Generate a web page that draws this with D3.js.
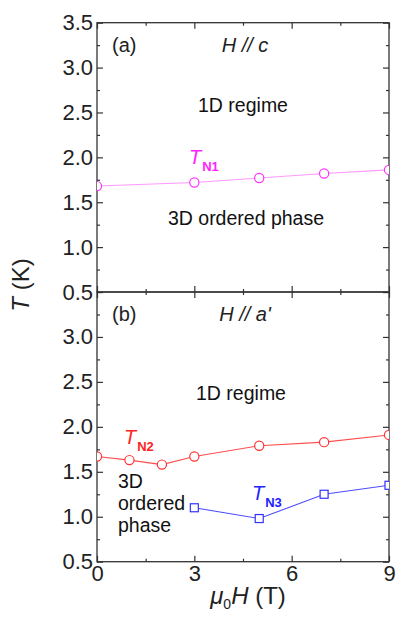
<!DOCTYPE html>
<html>
<head>
<meta charset="utf-8">
<script src="https://cdn.jsdelivr.net/npm/d3@7"></script>
<style>
  body { margin:0; background:#fff; }
  svg { font-family: "Liberation Sans", Arial, sans-serif; }
  .frame { fill:none; stroke:#333; stroke-width:1.3; }
  .tick line { stroke:#333; stroke-width:1.2; }
  .tick text { fill:#222; font-size:22px; }
</style>
</head>
<body>
<div id="chart"></div>
<script>
// field values (T) and transition temperatures (K)
var fieldN1 = [0, 3, 5, 7, 9],
    tempN1  = [1.68, 1.72, 1.77, 1.82, 1.86];
var fieldN2 = [0, 1, 2, 3, 5, 7, 9],
    tempN2  = [1.67, 1.63, 1.58, 1.67, 1.79, 1.83, 1.91];
var fieldN3 = [3, 5, 7, 9],
    tempN3  = [1.10, 0.98, 1.25, 1.35];
var xTicks = [0, 3, 6, 9],
    yTicks = [0.5, 1.0, 1.5, 2.0, 2.5, 3.0, 3.5];

var W = 397, H = 625,
    left = 97, right = 389,
    svg = d3.select('#chart').append('svg').attr('width', W).attr('height', H);

var x = d3.scaleLinear().domain([0, 9]).range([left, right]);

var panels = [
  {id:'a', top:22.7, bottom:292, label:'(a)', dir:'c'},
  {id:'b', top:292, bottom:561.7, label:'(b)', dir:"a'"}
];

panels.forEach(function(p){
  p.y = d3.scaleLinear().domain([0.5, 3.5]).range([p.bottom, p.top]);
  var g = svg.append('g');
  p.g = g;

  svg.append('defs').append('clipPath').attr('id', 'clip' + p.id)
    .append('rect').attr('x', left).attr('y', p.top)
    .attr('width', right - left).attr('height', p.bottom - p.top);

  // left axis
  var ylab = p.id === 'a' ? yTicks : yTicks.slice(0, 6);
  g.append('g').attr('transform', 'translate(' + left + ',0)')
    .call(d3.axisLeft(p.y).tickValues(yTicks).tickSize(-6).tickPadding(4)
      .tickFormat(function(d){ return ylab.indexOf(d) >= 0 ? d3.format('.1f')(d) : ''; }))
    .call(function(s){ s.select('.domain').remove(); });
  g.append('g').attr('transform', 'translate(' + left + ',0)')
    .call(d3.axisLeft(p.y).tickValues(d3.range(0.75, 3.5, 0.5)).tickSize(-3).tickFormat(''))
    .call(function(s){ s.select('.domain').remove(); });
  // right axis
  g.append('g').attr('transform', 'translate(' + right + ',0)')
    .call(d3.axisRight(p.y).tickValues(yTicks).tickSize(-6).tickFormat(''))
    .call(function(s){ s.select('.domain').remove(); });
  g.append('g').attr('transform', 'translate(' + right + ',0)')
    .call(d3.axisRight(p.y).tickValues(d3.range(0.75, 3.5, 0.5)).tickSize(-3).tickFormat(''))
    .call(function(s){ s.select('.domain').remove(); });
  // top axis
  g.append('g').attr('transform', 'translate(0,' + p.top + ')')
    .call(d3.axisTop(x).tickValues(xTicks).tickSize(-6).tickFormat(''))
    .call(function(s){ s.select('.domain').remove(); });
  g.append('g').attr('transform', 'translate(0,' + p.top + ')')
    .call(d3.axisTop(x).tickValues([1.5, 4.5, 7.5]).tickSize(-3).tickFormat(''))
    .call(function(s){ s.select('.domain').remove(); });
  // bottom axis
  g.append('g').attr('transform', 'translate(0,' + p.bottom + ')')
    .call(d3.axisBottom(x).tickValues(xTicks).tickSize(-6).tickPadding(4)
      .tickFormat(function(d){ return p.id === 'b' ? d : ''; }))
    .call(function(s){ s.select('.domain').remove(); });
  g.append('g').attr('transform', 'translate(0,' + p.bottom + ')')
    .call(d3.axisBottom(x).tickValues([1.5, 4.5, 7.5]).tickSize(-3).tickFormat(''))
    .call(function(s){ s.select('.domain').remove(); });

  g.append('rect').attr('class', 'frame')
    .attr('x', left).attr('y', p.top).attr('width', right - left).attr('height', p.bottom - p.top);

  g.append('text').attr('x', 112).attr('y', p.top + 29).attr('font-size', 20).attr('fill', '#222').text(p.label);
  var dt = g.append('text').attr('x', 245).attr('y', p.top + 29).attr('font-size', 20)
    .attr('fill', '#222').attr('text-anchor', 'middle').attr('font-style', 'italic');
  dt.append('tspan').text('H // ' + p.dir);
});

function series(p, xs, ys, color, lineColor, shape){
  var pts = xs.map(function(d, i){ return [x(d), p.y(ys[i])]; });
  var g = p.g.append('g').attr('clip-path', 'url(#clip' + p.id + ')');
  g.append('path').attr('d', d3.line()(pts))
    .attr('fill', 'none').attr('stroke', lineColor).attr('stroke-width', 1.1);
  if (shape === 'circle') {
    g.selectAll('circle').data(pts).enter().append('circle')
      .attr('cx', function(d){ return d[0]; }).attr('cy', function(d){ return d[1]; })
      .attr('r', 4.6).attr('fill', '#fff').attr('stroke', color).attr('stroke-width', 1.2);
  } else {
    g.selectAll('rect').data(pts).enter().append('rect')
      .attr('x', function(d){ return d[0] - 4; }).attr('y', function(d){ return d[1] - 4; })
      .attr('width', 8).attr('height', 8)
      .attr('fill', '#fff').attr('stroke', color).attr('stroke-width', 1.2);
  }
}

var pa = panels[0], pb = panels[1];
series(pa, fieldN1, tempN1, '#ff33ff', '#ff99ff', 'circle');
series(pb, fieldN2, tempN2, '#ff3333', '#ff4d4d', 'circle');
series(pb, fieldN3, tempN3, '#3333ff', '#4d4dff', 'square');

function label(x0, y0, txt, opts){
  var t = svg.append('text').attr('x', x0).attr('y', y0).attr('font-size', opts.size || 19.5)
    .attr('fill', opts.color || '#111');
  if (opts.anchor) t.attr('text-anchor', opts.anchor);
  t.text(txt);
  return t;
}
function tn(x0, y0, sub, color){
  var t = svg.append('text').attr('x', x0).attr('y', y0).attr('fill', color);
  t.append('tspan').attr('font-style', 'italic').attr('font-size', 20).text('T');
  t.append('tspan').attr('font-size', 13).attr('font-weight', 'bold').attr('dy', 7).attr('dx', 1).text(sub);
}

// panel (a) annotations
label(243, 112, '1D regime', {anchor:'middle'});
label(246, 225, '3D ordered phase', {anchor:'middle'});
tn(189, 164, 'N1', '#ff22ff');

// panel (b) annotations
label(241, 400, '1D regime', {anchor:'middle'});
label(118, 488, '3D', {});
label(118, 510, 'ordered', {});
label(118, 532, 'phase', {});
tn(124, 444, 'N2', '#ff2222');
tn(252, 500, 'N3', '#2222ff');

// axis titles
var yt = svg.append('text').attr('transform', 'translate(29,285) rotate(-90)')
  .attr('text-anchor', 'middle').attr('font-size', 24).attr('fill', '#222');
yt.append('tspan').attr('font-style', 'italic').text('T');
yt.append('tspan').text(' (K)');

var xt = svg.append('text').attr('x', 248).attr('y', 604)
  .attr('text-anchor', 'middle').attr('font-size', 24).attr('fill', '#222');
xt.append('tspan').attr('font-style', 'italic').text('\u03bc');
xt.append('tspan').attr('font-size', 14).attr('dy', 5).text('0');
xt.append('tspan').attr('font-style', 'italic').attr('dy', -5).text('H');
xt.append('tspan').text(' (T)');
</script>
</body>
</html>
